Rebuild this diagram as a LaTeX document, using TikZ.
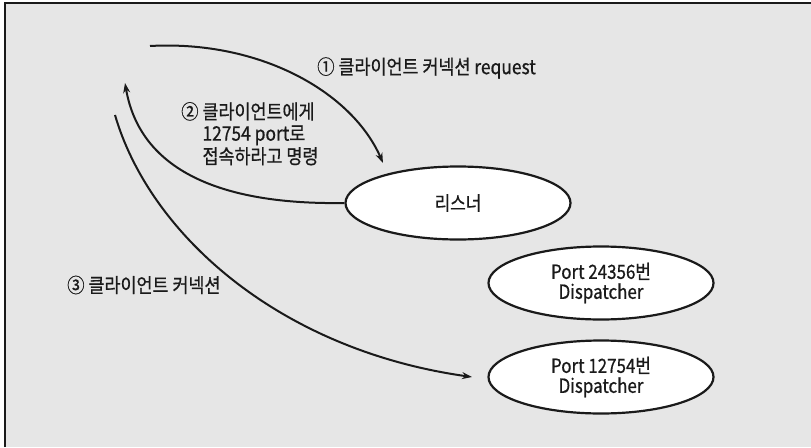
\documentclass[tikz,border=0pt]{standalone}
\usepackage{fontspec}
\setmainfont{Noto Sans CJK KR}[FakeStretch=0.87,FakeBold=0.6]
\usetikzlibrary{shapes.geometric,arrows.meta}
\definecolor{bg}{HTML}{E6E6E6}
\definecolor{ink}{HTML}{1A1A1A}
\tikzset{
  oval/.style={ellipse, draw=ink, line width=2.2pt, fill=white, inner sep=0pt,
    minimum width=225pt, minimum height=73pt, align=center, font=\fontsize{19.5}{20}\selectfont, text=ink},
  lbl/.style={font=\fontsize{20}{21.5}\selectfont, text=ink, inner sep=0pt},
  conn/.style={draw=ink, line width=2pt, -{Stealth[length=10pt,width=7pt]}},
}
\begin{document}
\begin{tikzpicture}[x=1pt,y=-1pt]
\useasboundingbox (0,0) rectangle (811,447);
\fill[white] (0,0) rectangle (811,447);
\fill[bg] (5,3) rectangle (811,447);
\draw[ink, line width=2pt] (5,447) -- (5,3) -- (811,3);

\node[oval] (lis) at (458,203) {리스너};
\node[oval] (p1) at (601,283) {Port 24356번\\Dispatcher};
\node[oval] (p2) at (601,377) {Port 12754번\\Dispatcher};

\coordinate (c1s) at (150,46);
\coordinate (c1e) at (383,163);
\coordinate (c2e) at (125,83);
\coordinate (c3s) at (115,115);
\coordinate (c3e) at (472,377);

\draw[conn] (c1s) .. controls (260,40) and (352,92) .. (c1e);
\draw[conn] (lis.west) .. controls (220,205) and (140,170) .. (c2e);
\draw[conn] (c3s) .. controls (150,235) and (280,350) .. (c3e);

\node[lbl, anchor=west] (t1) at (317,68) {① 클라이언트 커넥션 request};
\node[lbl, anchor=base west] (t2) at (181,119) {② \begin{tabular}[t]{@{}l@{}}클라이언트에게\\12754 port로\\접속하라고 명령\end{tabular}};
\node[lbl, anchor=west] (t3) at (67,285) {③ 클라이언트 커넥션};
\end{tikzpicture}
\end{document}
